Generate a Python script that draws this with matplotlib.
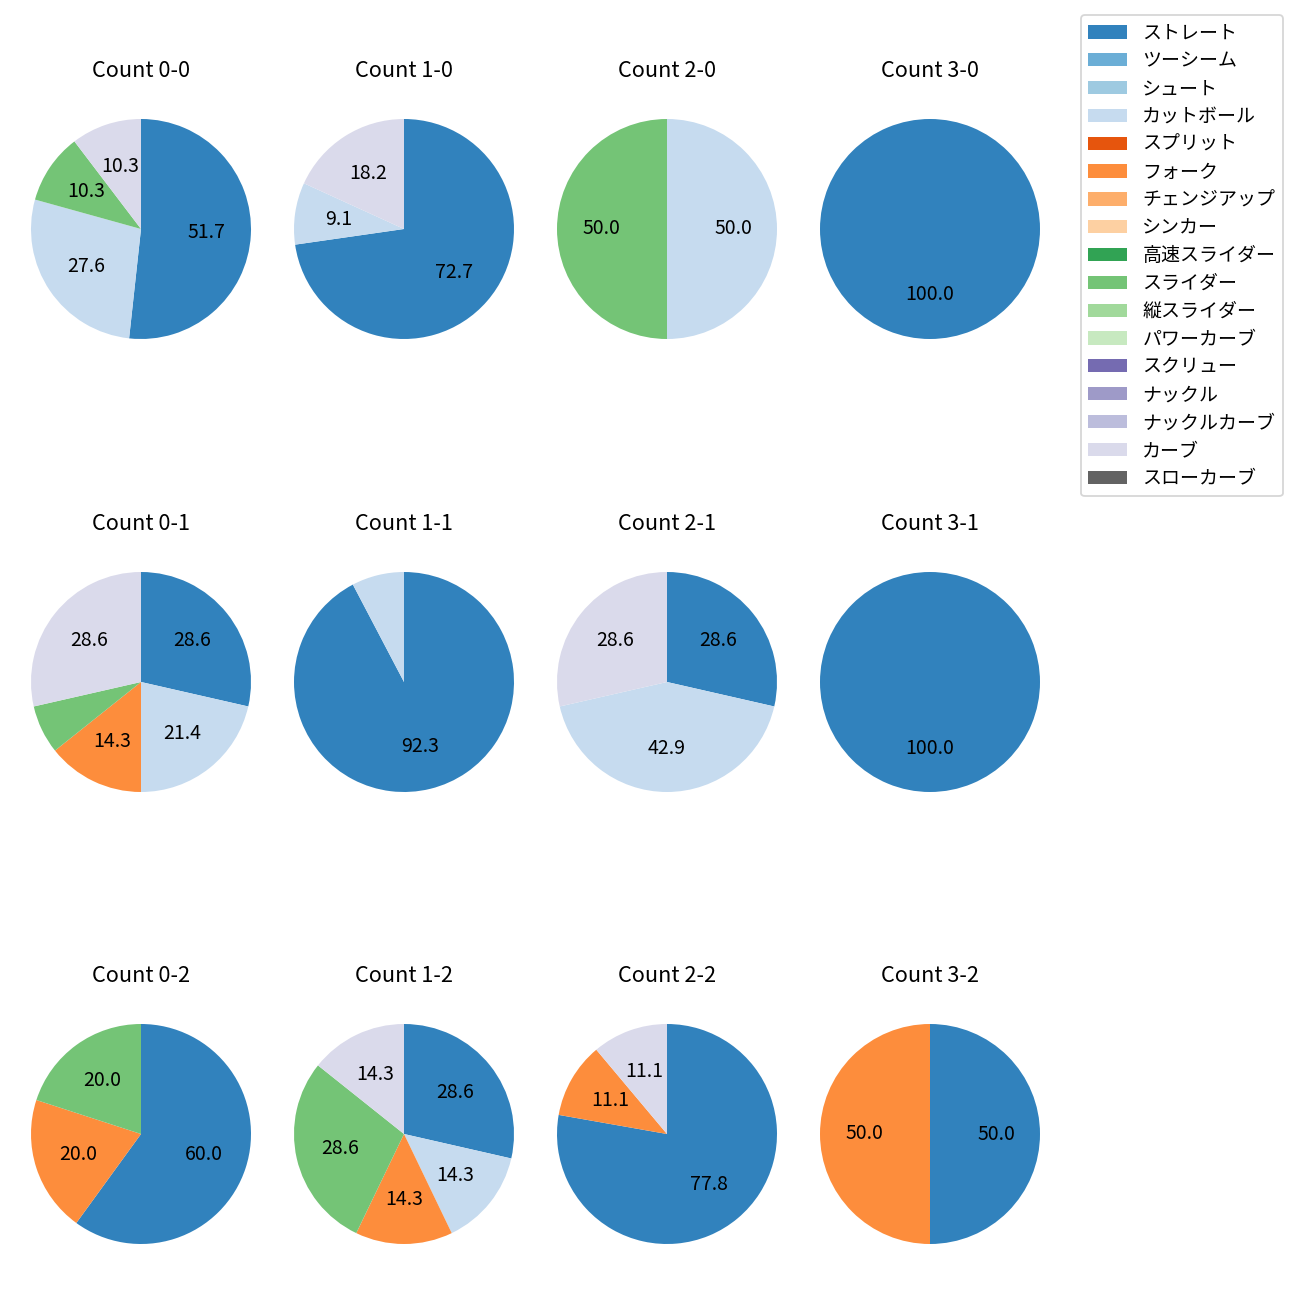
import matplotlib
matplotlib.use("Agg")
import matplotlib.pyplot as plt
from matplotlib.patches import Patch

plt.rcParams['font.family'] = ['Noto Sans CJK JP', 'DejaVu Sans']

pitch_types = ['ストレート', 'ツーシーム', 'シュート', 'カットボール', 'スプリット', 'フォーク',
               'チェンジアップ', 'シンカー', '高速スライダー', 'スライダー', '縦スライダー',
               'パワーカーブ', 'スクリュー', 'ナックル', 'ナックルカーブ', 'カーブ', 'スローカーブ']

count_labels = ['0-0', '1-0', '2-0', '3-0',
                '0-1', '1-1', '2-1', '3-1',
                '0-2', '1-2', '2-2', '3-2']

# pitch counts per ball-strike count, in pitch_types order
c_0_0 = [15, 0, 0, 8, 0, 0, 0, 0, 0, 3, 0, 0, 0, 0, 0, 3, 0]
c_1_0 = [8, 0, 0, 1, 0, 0, 0, 0, 0, 0, 0, 0, 0, 0, 0, 2, 0]
c_2_0 = [0, 0, 0, 1, 0, 0, 0, 0, 0, 1, 0, 0, 0, 0, 0, 0, 0]
c_3_0 = [1, 0, 0, 0, 0, 0, 0, 0, 0, 0, 0, 0, 0, 0, 0, 0, 0]
c_0_1 = [4, 0, 0, 3, 0, 2, 0, 0, 0, 1, 0, 0, 0, 0, 0, 4, 0]
c_1_1 = [12, 0, 0, 1, 0, 0, 0, 0, 0, 0, 0, 0, 0, 0, 0, 0, 0]
c_2_1 = [2, 0, 0, 3, 0, 0, 0, 0, 0, 0, 0, 0, 0, 0, 0, 2, 0]
c_3_1 = [1, 0, 0, 0, 0, 0, 0, 0, 0, 0, 0, 0, 0, 0, 0, 0, 0]
c_0_2 = [3, 0, 0, 0, 0, 1, 0, 0, 0, 1, 0, 0, 0, 0, 0, 0, 0]
c_1_2 = [2, 0, 0, 1, 0, 1, 0, 0, 0, 2, 0, 0, 0, 0, 0, 1, 0]
c_2_2 = [7, 0, 0, 0, 0, 1, 0, 0, 0, 0, 0, 0, 0, 0, 0, 1, 0]
c_3_2 = [1, 0, 0, 0, 0, 1, 0, 0, 0, 0, 0, 0, 0, 0, 0, 0, 0]

all_counts = [c_0_0, c_1_0, c_2_0, c_3_0, c_0_1, c_1_1, c_2_1, c_3_1,
              c_0_2, c_1_2, c_2_2, c_3_2]

cmap = plt.get_cmap('tab20c')
colors = [cmap(i) for i in range(len(pitch_types))]

W = H = 1300
fig = plt.figure(figsize=(10, 10), dpi=130)

col_centers = [141, 404, 667, 930]
row_centers = [229, 682, 1134]
S = 275

def autopct(p):
    return f'{p:.1f}' if p > 8 else ''

for idx, (lab, vals) in enumerate(zip(count_labels, all_counts)):
    r, c = divmod(idx, 4)
    cx, cy = col_centers[c], row_centers[r]
    ax = fig.add_axes([(cx - S / 2) / W, 1 - (cy + S / 2) / H, S / W, S / H])
    v = [x for x in vals if x > 0]
    cols = [colors[i] for i, x in enumerate(vals) if x > 0]
    ax.pie(v, colors=cols, startangle=90, counterclock=False,
           autopct=autopct, textprops={'fontsize': 10.8})
    ax.set_title(f'Count {lab}', fontsize=12, pad=8.2)

handles = [Patch(facecolor=colors[i], label=pitch_types[i]) for i in range(len(pitch_types))]
fig.legend(handles=handles, loc='upper right', bbox_to_anchor=(1283 / W, 1 - 15 / H),
           borderaxespad=0, fontsize=10.5, labelspacing=0.36, handlelength=2.05)

fig.savefig('out.png', dpi=130)
